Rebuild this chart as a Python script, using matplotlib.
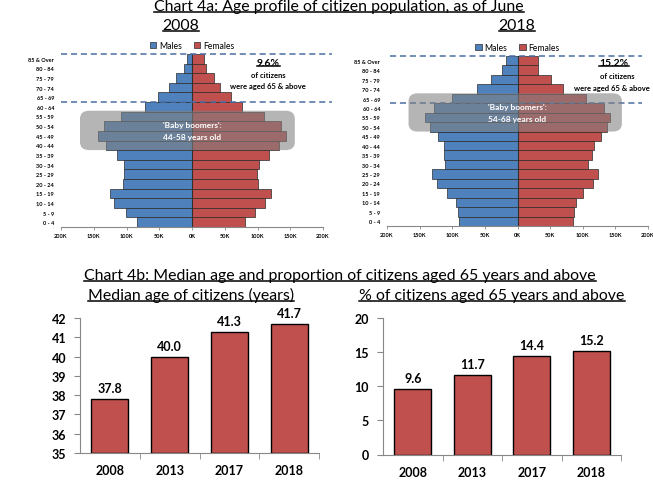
import matplotlib.pyplot as plt
from matplotlib.patches import FancyBboxPatch
from matplotlib.lines import Line2D
from matplotlib.ticker import FuncFormatter

plt.rcParams['font.family'] = ['Lato', 'DejaVu Sans']

W, H = 653, 481

age_groups = ['0 - 4', '5 - 9', '10 - 14', '15 - 19', '20 - 24', '25 - 29', '30 - 34',
              '35 - 39', '40 - 44', '45 - 49', '50 - 54', '55 - 59', '60 - 64',
              '65 - 69', '70 - 74', '75 - 79', '80 - 84', '85 & Over']

# population in thousands, youngest group first
males_2008 = [84, 101, 119, 125, 106, 104, 104, 114.5, 131, 143, 134, 108, 71, 51.5, 35.5, 24.5, 12, 7.5]
females_2008 = [81, 96, 112, 120, 100, 99, 103, 117, 133, 143, 136, 110, 76, 59, 43, 33, 21, 18]
males_2018 = [90, 91, 94, 107.5, 123.5, 131, 111, 113, 113, 121.5, 134, 141.5, 128, 100, 61.5, 40, 23.5, 17]
females_2018 = [85, 86, 90, 101, 115, 123, 108.5, 114, 118, 128, 137, 142.5, 133, 105.5, 70, 51, 32, 32]

years = ['2008', '2013', '2017', '2018']
median_age = [37.8, 40.0, 41.3, 41.7]
pct_65_above = [9.6, 11.7, 14.4, 15.2]

BLUE = '#4F81BD'
RED = '#C0504D'

fig = plt.figure(figsize=(W / 100, H / 100), dpi=100)


def fx(px):
    return px / W


def fy(py):
    return 1 - py / H


def add_text(x, y, s, size, weight='normal', ha='center', underline=False, color='black'):
    t = fig.text(fx(x), fy(y), s, fontsize=size, fontweight=weight, ha=ha, va='baseline', color=color)
    if underline:
        fig.canvas.draw()
        bb = t.get_window_extent(renderer=fig.canvas.get_renderer())
        uy = y + size * 0.16
        fig.add_artist(Line2D([bb.x0 / W, bb.x1 / W], [fy(uy), fy(uy)],
                              transform=fig.transFigure, color='black', lw=1.1))
    return t


def pyramid(rect, males, females, box, box_lines, dash_x):
    ax = fig.add_axes(rect)
    pos = range(len(age_groups))
    ax.barh(pos, [-m for m in males], height=1.0, color=BLUE, edgecolor='#2a2a2a', lw=0.5, label='Males')
    ax.barh(pos, females, height=1.0, color=RED, edgecolor='#2a2a2a', lw=0.5, label='Females')
    ax.axvline(0, color='#303030', lw=0.8)
    ax.set_xlim(-200, 200)
    ax.set_ylim(-0.5, len(age_groups) - 0.5)
    ax.set_yticks(list(pos))
    ax.set_yticklabels(age_groups, fontsize=4, fontweight='bold')
    ax.set_xticks(range(-200, 201, 50))
    ax.xaxis.set_major_formatter(FuncFormatter(lambda v, p: f'{abs(int(v))}K'))
    for lab in ax.get_xticklabels():
        lab.set_fontsize(4)
        lab.set_fontweight('bold')
    ax.tick_params(axis='y', length=0, pad=5)
    ax.tick_params(axis='x', length=2.5, width=0.6, color='#888888', pad=1.5)
    for s in ['top', 'right', 'left']:
        ax.spines[s].set_visible(False)
    ax.spines['bottom'].set_color('#888888')
    ax.spines['bottom'].set_linewidth(0.8)
    ax.legend(loc='lower center', bbox_to_anchor=(0.5, 1.0), ncol=2, frameon=False,
              fontsize=6.2, handlelength=0.75, handleheight=0.75, handletextpad=0.3,
              columnspacing=1.4, borderaxespad=0.05)
    # dashed lines marking the 65+ band
    for yv in [len(age_groups) - 0.5, 12.5]:
        ax.plot(dash_x, [yv, yv], ls=(0, (4, 2.5)), color='#4A6FA5', lw=1.1, clip_on=False)
    x0, x1, y0, y1 = box
    ax.add_patch(FancyBboxPatch((x0, y0), x1 - x0, y1 - y0,
                                boxstyle='round,pad=0,rounding_size=14',
                                mutation_aspect=0.06, facecolor='#808080', alpha=0.58,
                                edgecolor='none', zorder=5))
    ax.text(0, (y0 + y1) / 2 + 0.65, box_lines[0], ha='center', va='center', color='white',
            fontsize=6, fontweight='bold', zorder=6)
    ax.text(0, (y0 + y1) / 2 - 0.6, box_lines[1], ha='center', va='center', color='white',
            fontsize=6, fontweight='bold', zorder=6)
    return ax


pyramid([fx(61), fy(228), (323 - 61) / W, (228 - 55) / H], males_2008, females_2008,
        (-171, 157, 7.5, 11.6), ["'Baby boomers':", '44-58 years old'], [-200, 214])
pyramid([fx(387), fy(227), (648 - 387) / W, (227 - 57) / H], males_2018, females_2018,
        (-167, 160, 9.5, 13.55), ["'Baby boomers':", '54-68 years old'], [-196, 191])

# titles
add_text(339, 11, 'Chart 4a: Age profile of citizen population, as of June', 11.4, underline=True)
add_text(181, 30, '2008', 11.4, underline=True)
add_text(517, 30, '2018', 11.4, underline=True)

add_text(268, 66, '9.6%', 7.5, weight='bold', underline=True)
add_text(268, 78, 'of citizens', 5.5, weight='bold')
add_text(268, 89, 'were aged 65 & above', 5.5, weight='bold')
add_text(614, 66, '15.2%', 7.5, weight='bold', underline=True)
add_text(617, 79, 'of citizens', 5.5, weight='bold')
add_text(574, 91, 'were aged 65 & above', 5.5, weight='bold', ha='left')

add_text(340, 280, 'Chart 4b: Median age and proportion of citizens aged 65 years and above', 11.4,
         underline=True)
add_text(191, 300, 'Median age of citizens (years)', 11.4, underline=True)
add_text(492, 300, '% of citizens aged 65 years and above', 11.4, underline=True)


def bars(rect, values, ylim, step, offset):
    ax = fig.add_axes(rect)
    x = range(len(years))
    ax.bar(x, [v - ylim[0] for v in values], bottom=ylim[0], width=0.62, color=RED,
           edgecolor='black', lw=1.0)
    for xi, v in zip(x, values):
        ax.annotate(f'{v:.1f}', (xi, v), xytext=(0, offset), textcoords='offset points',
                    ha='center', va='bottom', fontsize=9, fontweight='bold')
    ax.set_xlim(-0.5, len(years) - 0.5)
    ax.set_ylim(*ylim)
    ax.set_yticks(range(ylim[0], ylim[1] + 1, step))
    ax.set_xticks(list(x))
    ax.set_xticklabels(years)
    ax.set_xticks([0.5, 1.5, 2.5, 3.5], minor=True)
    for lab in ax.get_xticklabels() + ax.get_yticklabels():
        lab.set_fontsize(9)
        lab.set_fontweight('bold')
    ax.tick_params(axis='x', which='major', length=0, pad=8)
    ax.tick_params(axis='x', which='minor', length=4, color='#888888', direction='out')
    ax.tick_params(axis='y', length=4, color='#888888', pad=6)
    for s in ['top', 'right']:
        ax.spines[s].set_visible(False)
    for s in ['left', 'bottom']:
        ax.spines[s].set_color('#888888')
    return ax


bars([fx(80), fy(454), (319 - 80) / W, (454 - 319) / H], median_age, (35, 42), 1, 3.5)
bars([fx(383), fy(455.5), (621 - 383) / W, (455.5 - 319) / H], pct_65_above, (0, 20), 5, 3.5)

fig.savefig('out.png', dpi=100)
